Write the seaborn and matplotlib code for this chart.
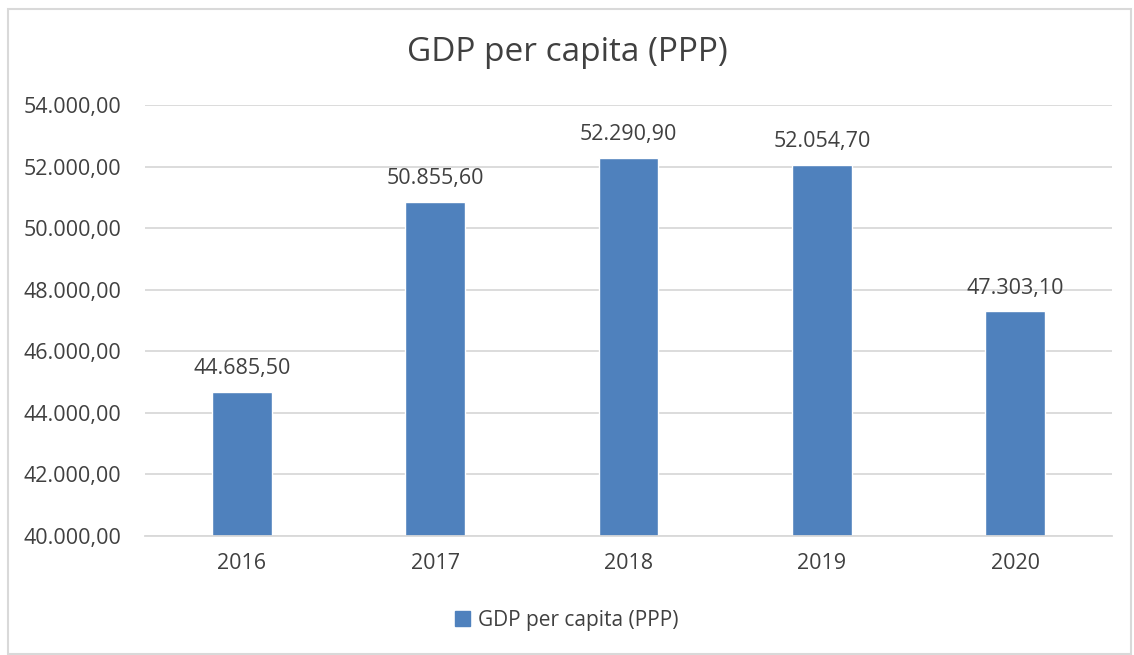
import seaborn as sns
import pandas as pd
import matplotlib.pyplot as plt
from matplotlib.patches import Rectangle, Patch
from matplotlib.ticker import FuncFormatter

years = ['2016', '2017', '2018', '2019', '2020']
gdp = [44685.50, 50855.60, 52290.90, 52054.70, 47303.10]
series_name = 'GDP per capita (PPP)'

BLUE = '#4F81BD'
TEXT = '#404040'


def euro_fmt(v):
    s = f"{v:,.2f}"
    return s.replace(',', 'X').replace('.', ',').replace('X', '.')


df = pd.DataFrame({'year': years, 'gdp': gdp})

sns.set_style('white')
plt.rcParams['font.family'] = ['Open Sans', 'DejaVu Sans']

fig = plt.figure(figsize=(11.34, 6.55), dpi=100)
ax = fig.add_axes([0.1279, 0.1817, 0.8527, 0.658])

sns.barplot(data=df, x='year', y='gdp', color=BLUE, width=0.31, ax=ax,
            saturation=1)

ax.set_ylim(40000, 54000)
ax.set_yticks(range(40000, 54001, 2000))
ax.yaxis.set_major_formatter(FuncFormatter(lambda v, p: euro_fmt(v)))
ax.set_xlim(-0.5, 4.5)
ax.grid(axis='y', color='#D9D9D9', linewidth=1.3)
ax.set_axisbelow(True)
for s in ['top', 'right', 'left']:
    ax.spines[s].set_visible(False)
ax.spines['bottom'].set_color('#D9D9D9')
ax.spines['bottom'].set_linewidth(1.3)
ax.tick_params(axis='both', length=0, labelsize=15.5, colors=TEXT, pad=12)
ax.tick_params(axis='y', pad=17)
ax.set_xlabel('')
ax.set_ylabel('')

for i, v in enumerate(gdp):
    ax.annotate(euro_fmt(v), (i, v), xytext=(0, 9), textcoords='offset points',
                ha='center', va='bottom', fontsize=15.5, color=TEXT)

fig.text(0.5, 0.92, series_name, ha='center', va='center', fontsize=24, color=TEXT)

ax.legend(handles=[Patch(color=BLUE, label=series_name)], loc='center',
          bbox_to_anchor=(0.5, 0.053), bbox_transform=fig.transFigure,
          frameon=False, fontsize=15, handlelength=0.7, handleheight=0.7,
          handletextpad=0.4, labelcolor=TEXT)

fig.patches.append(Rectangle((0.007, 0.002), 0.99, 0.985, transform=fig.transFigure,
                             fill=False, edgecolor='#D9D9D9', linewidth=1.5))

fig.savefig('out.png', dpi=100)
